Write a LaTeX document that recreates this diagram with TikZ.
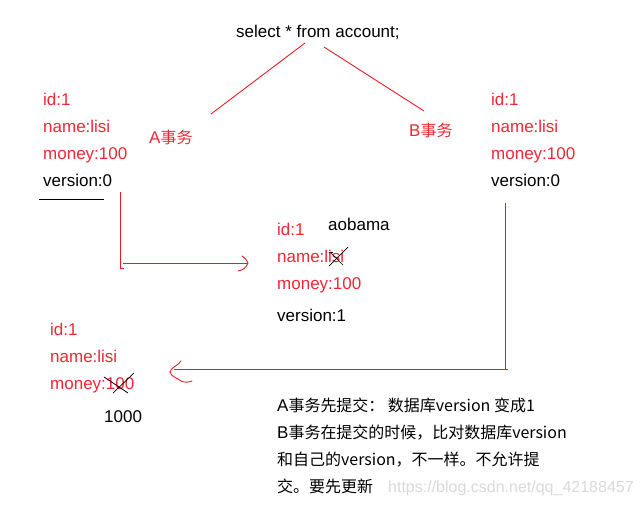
\documentclass[tikz,border=0pt]{standalone}
\usepackage{fontspec}
\setmainfont{Liberation Sans}
\newfontfamily\cjk[Scale=0.94]{Noto Sans CJK SC}
\definecolor{txtred}{RGB}{240,40,52}
\definecolor{linered}{RGB}{237,28,36}
\definecolor{wmgray}{RGB}{218,218,218}
\tikzset{
  txt/.style={anchor=base west,inner sep=0pt,font=\fontsize{17}{20}\selectfont},
  rtxt/.style={txt,text=txtred},
  btxt/.style={txt,text=black},
  redline/.style={draw=linered,line width=0.9pt},
  cross/.style={draw=black,line width=0.7pt},
}
\begin{document}
\begin{tikzpicture}[x=1pt,y=-1pt]
\useasboundingbox[fill=white] (0,0) rectangle (640,506);
% title
\node[btxt] (sel) at (236,37) {select * from account;};
\coordinate (selA) at (305,43);
\coordinate (selB) at (324,47);
\coordinate (endA) at (211,114);
\coordinate (endB) at (424,111);
\draw[redline] (selA) -- (endA);
\draw[redline] (selB) -- (endB);
\node[rtxt] (lblA) at (149,143) {A\cjk{事务}};
\node[rtxt] (lblB) at (409,136) {B\cjk{事务}};
% left block
\node[rtxt] (l1) at (43,105) {id:1};
\node[rtxt] (l2) at (43,132) {name:lisi};
\node[rtxt] (l3) at (43,159) {money:100};
\node[btxt] (l4) at (43,186) {version:0};
\coordinate (ulA) at (39,199);
\coordinate (ulB) at (104,199);
\draw[black,line width=0.9pt] (ulA) -- (ulB);
% right block
\node[rtxt] (r1) at (491,105) {id:1};
\node[rtxt] (r2) at (491,132) {name:lisi};
\node[rtxt] (r3) at (491,159) {money:100};
\node[btxt] (r4) at (491,186) {version:0};
% middle block
\node[rtxt] (m1) at (277,235) {id:1};
\node[btxt] (ao) at (328,230) {aobama};
\node[rtxt] (m2) at (277,262) {name:lisi};
\node[rtxt] (m3) at (277,289) {money:100};
\node[btxt] (m4) at (277,321) {version:1};
\draw[cross] (329,266) -- (348,247);
\draw[cross] (330,252) -- (343,265);
\draw[cross] (329,252) -- (333,252);
% bottom-left block
\node[rtxt] (b1) at (50,335) {id:1};
\node[rtxt] (b2) at (50,362) {name:lisi};
\node[rtxt] (b3) at (50,389) {money:100};
\node[btxt] (b4) at (104,422) {1000};
\draw[cross] (113,393) -- (134,373);
\draw[cross] (104,377) -- (128,393);
% left L-arrow
\coordinate (la1) at (120,192);
\coordinate (la2) at (120,268);
\coordinate (la3) at (124,268);
\coordinate (la4) at (123,263);
\coordinate (la5) at (247,263);
\draw[redline] (la1) -- (la2) -- (la3);
\draw[redline] (la4) -- (la5);
\draw[redline,line cap=round] (242,256) .. controls (246,259) .. (248,263) .. controls (246,268) and (243,270) .. (238,271);
% right L-arrow
\coordinate (ra1) at (505,203);
\coordinate (ra2) at (505,369);
\coordinate (ra3) at (508,369);
\coordinate (ra4) at (174,369);
\draw[redline] (ra1) -- (ra2);
\draw[redline] (ra3) -- (ra4);
\draw[redline,line cap=round] (181,361) .. controls (178,366) and (171,367) .. (170,372) .. controls (171,377) and (178,378) .. (181,381) .. controls (185,383) and (189,382) .. (192,381);
% notes
\node[btxt] (n1) at (277,411) {A\cjk{事务先提交：} \cjk{数据库}version \cjk{变成}1};
\node[btxt] (n2) at (277,438) {B\cjk{事务在提交的时候，比对数据库}version};
\node[btxt] (n3) at (277,465) {\cjk{和自己的}version\cjk{，不一样。不允许提}};
\node[btxt] (n4) at (277,492) {\cjk{交。要先更新}};
\node[txt,text=wmgray,font=\fontsize{16}{18}\selectfont] (wm) at (388,492) {https://blog.csdn.net/qq\_42188457};
\end{tikzpicture}
\end{document}
